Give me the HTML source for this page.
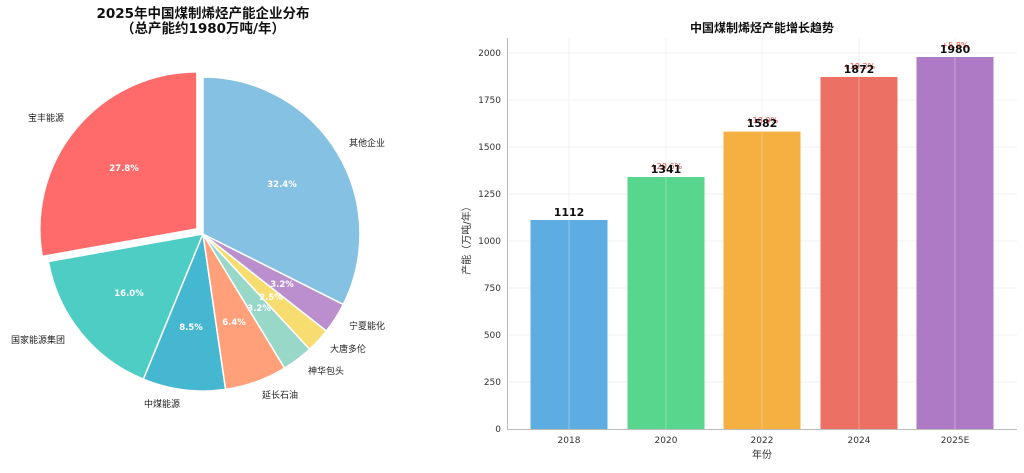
<!DOCTYPE html>
<html><head><meta charset="utf-8"><style>
body{margin:0;background:#fff;}
svg text{font-family:"DejaVu Sans","Noto Sans CJK SC",sans-serif;}
</style></head><body>
<svg width="1024" height="468" viewBox="0 0 1024 468" xmlns="http://www.w3.org/2000/svg">
<rect width="1024" height="468" fill="#fff"/>
<!-- Pie -->
<text x="203" y="18" text-anchor="middle" font-size="13.5" font-weight="bold" fill="#111">2025年中国煤制烯烃产能企业分布</text>
<text x="203" y="33" text-anchor="middle" font-size="13.5" font-weight="bold" fill="#111">（总产能约1980万吨/年）</text>
<g stroke="#fff" stroke-width="1.5">
<path d="M196.9,228.9 L196.9,71.9 A157,157 0 0 0 42.3,256.4 Z" fill="#ff6b6b"/>
<path d="M203,234 L48.4,261.5 A157,157 0 0 0 143.4,379.2 Z" fill="#4ecdc4"/>
<path d="M203,234 L143.4,379.2 A157,157 0 0 0 225.6,389.4 Z" fill="#45b7d1"/>
<path d="M203,234 L225.6,389.4 A157,157 0 0 0 284.6,368.1 Z" fill="#ffa07a"/>
<path d="M203,234 L284.6,368.1 A157,157 0 0 0 309.7,349.2 Z" fill="#98d8c8"/>
<path d="M203,234 L309.7,349.2 A157,157 0 0 0 326.4,331.0 Z" fill="#f7dc6f"/>
<path d="M203,234 L326.4,331.0 A157,157 0 0 0 343.3,304.4 Z" fill="#bb8fce"/>
<path d="M203,234 L343.3,304.4 A157,157 0 0 0 203,77 Z" fill="#85c1e2"/>
</g>
<g font-size="8.5" font-weight="bold" fill="#fff" text-anchor="middle">
<text x="124" y="171">27.8%</text>
<text x="282" y="187">32.4%</text>
<text x="129" y="296">16.0%</text>
<text x="191" y="330">8.5%</text>
<text x="234" y="325">6.4%</text>
<text x="259" y="311">3.2%</text>
<text x="271" y="300">2.5%</text>
<text x="282" y="287">3.2%</text>
</g>
<g font-size="9" fill="#222">
<text x="28" y="121">宝丰能源</text>
<text x="349" y="146">其他企业</text>
<text x="11" y="343">国家能源集团</text>
<text x="144" y="407">中煤能源</text>
<text x="262" y="398">延长石油</text>
<text x="308" y="374">神华包头</text>
<text x="330" y="352">大唐多伦</text>
<text x="349" y="329">宁夏能化</text>
</g>
<!-- Bar chart -->
<text x="762" y="32" text-anchor="middle" font-size="12" font-weight="bold" fill="#111">中国煤制烯烃产能增长趋势</text>
<g stroke="#eee" stroke-width="0.8">
<line x1="507" y1="53" x2="1017" y2="53"/><line x1="507" y1="100" x2="1017" y2="100"/>
<line x1="507" y1="147" x2="1017" y2="147"/><line x1="507" y1="194" x2="1017" y2="194"/>
<line x1="507" y1="241" x2="1017" y2="241"/><line x1="507" y1="288" x2="1017" y2="288"/>
<line x1="507" y1="335" x2="1017" y2="335"/><line x1="507" y1="382" x2="1017" y2="382"/>
<line x1="569" y1="38" x2="569" y2="429"/><line x1="666" y1="38" x2="666" y2="429"/>
<line x1="762" y1="38" x2="762" y2="429"/><line x1="859" y1="38" x2="859" y2="429"/>
<line x1="955" y1="38" x2="955" y2="429"/>
</g>
<rect x="530.5" y="220" width="77" height="209" fill="#5dade2"/>
<rect x="627.5" y="177" width="77" height="252" fill="#58d68d"/>
<rect x="723.5" y="131.6" width="77" height="297.4" fill="#f5b041"/>
<rect x="820.5" y="77" width="77" height="352" fill="#ec7063"/>
<rect x="916.5" y="57" width="77" height="372" fill="#af7ac5"/>
<g stroke="#fff" stroke-opacity="0.3" stroke-width="1">
<line x1="569" y1="220" x2="569" y2="429"/><line x1="666" y1="177" x2="666" y2="429"/>
<line x1="762" y1="132" x2="762" y2="429"/><line x1="859" y1="77" x2="859" y2="429"/>
<line x1="955" y1="57" x2="955" y2="429"/>
</g>
<g font-size="8" fill="#e74c3c" text-anchor="middle">
<text x="666" y="169">+20.6%</text><text x="762" y="123">+18.0%</text>
<text x="859" y="69">+18.3%</text><text x="955" y="48">+5.8%</text>
</g>
<g font-size="11" font-weight="bold" fill="#111" text-anchor="middle">
<text x="569" y="216">1112</text><text x="666" y="173">1341</text>
<text x="762" y="127">1582</text><text x="859" y="73">1872</text>
<text x="955" y="53">1980</text>
</g>
<g stroke="#bbb" stroke-width="1">
<line x1="507.5" y1="38" x2="507.5" y2="429"/><line x1="507" y1="429.5" x2="1017" y2="429.5"/>
</g>
<g font-size="9" fill="#333" text-anchor="end">
<text x="501" y="432">0</text><text x="501" y="385">250</text><text x="501" y="338">500</text>
<text x="501" y="291">750</text><text x="501" y="244">1000</text><text x="501" y="197">1250</text>
<text x="501" y="150">1500</text><text x="501" y="103">1750</text><text x="501" y="56">2000</text>
</g>
<g font-size="9" fill="#333" text-anchor="middle">
<text x="569" y="443">2018</text><text x="666" y="443">2020</text><text x="762" y="443">2022</text>
<text x="859" y="443">2024</text><text x="955" y="443">2025E</text>
</g>
<text x="762" y="458" text-anchor="middle" font-size="10" fill="#333">年份</text>
<text transform="translate(470,238) rotate(-90)" text-anchor="middle" font-size="10" fill="#333">产能（万吨/年）</text>
</svg>
</body></html>
